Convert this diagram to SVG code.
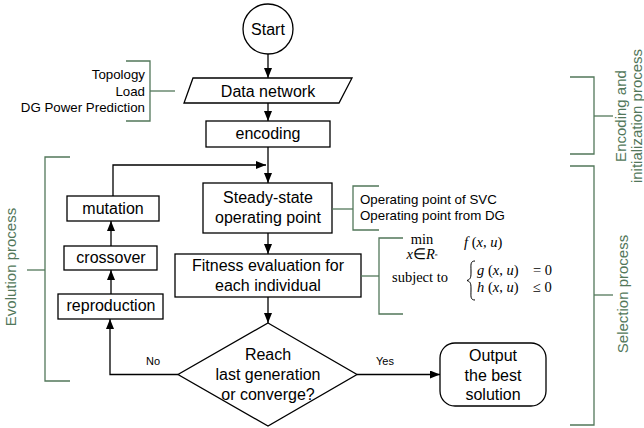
<svg xmlns="http://www.w3.org/2000/svg" width="644" height="428" viewBox="0 0 644 428">
<defs>
<marker id="ah" viewBox="0 0 10 8" refX="10" refY="4" markerWidth="10" markerHeight="8" markerUnits="userSpaceOnUse" orient="auto">
<path d="M0,0 L10,4 L0,8 Z" fill="#000"/>
</marker>
<style>
.box{fill:#fff;stroke:#000;stroke-width:1.3}
.t{font-family:"Liberation Sans",Arial,sans-serif;font-size:16px;fill:#000;text-anchor:middle}
.s{font-family:"Liberation Sans",Arial,sans-serif;font-size:11px;fill:#000;text-anchor:middle}
.n{font-family:"Liberation Sans",Arial,sans-serif;font-size:13.3px;fill:#000}
.g{font-family:"Liberation Sans",Arial,sans-serif;font-size:15px;fill:#52775a;text-anchor:middle}
.br{fill:none;stroke:#52775a;stroke-width:1.3}
.c{fill:none;stroke:#000;stroke-width:1.3}
.m{font-family:"Liberation Serif","Times New Roman",serif;font-size:14.5px;fill:#000}
.mi{font-style:italic}
</style>
</defs>

<g id="connectors">
<line class="c" x1="268" y1="54" x2="268" y2="78" marker-end="url(#ah)"/>
<line class="c" x1="268" y1="103" x2="268" y2="121" marker-end="url(#ah)"/>
<line class="c" x1="268" y1="147" x2="268" y2="183" marker-end="url(#ah)"/>
<polyline class="c" points="113,196 113,165 266,165" marker-end="url(#ah)"/>
<line class="c" x1="268" y1="233" x2="268" y2="254" marker-end="url(#ah)"/>
<line class="c" x1="268" y1="297" x2="268" y2="323" marker-end="url(#ah)"/>
<line class="c" x1="111" y1="246" x2="111" y2="221" marker-end="url(#ah)"/>
<line class="c" x1="111" y1="294" x2="111" y2="270" marker-end="url(#ah)"/>
<polyline class="c" points="178,374.5 110,374.5 110,319" marker-end="url(#ah)"/>
<line class="c" x1="357" y1="374.5" x2="440" y2="374.5" marker-end="url(#ah)"/>
<text class="s" x="153" y="365">No</text>
<text class="s" x="385" y="365">Yes</text>
</g>

<g id="start">
<circle cx="268" cy="29" r="25" class="box"/>
<text class="t" x="268" y="35">Start</text>
</g>

<g id="data-network">
<polygon class="box" points="193,78 352,78 339,103 184,103"/>
<text class="t" x="268" y="97">Data network</text>
</g>

<g id="encoding">
<rect class="box" x="206" y="121" width="124" height="26"/>
<text class="t" x="268" y="139">encoding</text>
</g>

<g id="steady-state">
<rect class="box" x="203" y="183" width="129" height="50"/>
<text class="t" x="268" y="203">Steady-state</text>
<text class="t" x="268" y="223">operating point</text>
</g>

<g id="fitness">
<rect class="box" x="175" y="254" width="186" height="43"/>
<text class="t" x="268" y="271">Fitness evaluation for</text>
<text class="t" x="268" y="291">each individual</text>
</g>

<g id="decision">
<polygon class="box" points="268,323 357,374.5 268,426 178,374.5"/>
<text class="t" x="268" y="360">Reach</text>
<text class="t" x="268" y="380">last generation</text>
<text class="t" x="268" y="400">or converge?</text>
</g>

<g id="output">
<rect class="box" x="440" y="343" width="106" height="63" rx="15" ry="15"/>
<text class="t" x="493" y="361">Output</text>
<text class="t" x="493" y="381">the best</text>
<text class="t" x="493" y="400">solution</text>
</g>

<g id="mutation">
<rect class="box" x="67" y="196" width="92" height="25"/>
<text class="t" x="113" y="214">mutation</text>
</g>

<g id="crossover">
<rect class="box" x="64" y="246" width="93" height="24"/>
<text class="t" x="111" y="263">crossover</text>
</g>

<g id="reproduction">
<rect class="box" x="58" y="294" width="105" height="25"/>
<text class="t" x="111" y="311">reproduction</text>
</g>

<g id="input-bracket">
<polyline class="br" points="126,61 150,61 150,121 126,121"/>
<line class="br" x1="150" y1="91" x2="175" y2="91"/>
<text class="n" x="145" y="79" text-anchor="end" font-size="14">Topology</text>
<text class="n" x="145" y="95.5" text-anchor="end" font-size="14">Load</text>
<text class="n" x="145" y="112" text-anchor="end" font-size="14">DG Power Prediction</text>
</g>

<g id="svc-bracket">
<line class="br" x1="332" y1="209" x2="353" y2="209"/>
<polyline class="br" points="379,186 353,186 353,230 379,230"/>
<text class="n" x="360" y="204">Operating point of SVC</text>
<text class="n" x="360" y="220">Operating point from DG</text>
</g>

<g id="math-bracket">
<line class="br" x1="361" y1="276" x2="379" y2="276"/>
<polyline class="br" points="403,238 379,238 379,314 403,314"/>
<text class="m" x="422" y="244" text-anchor="middle" font-size="14">min</text>
<text class="m mi" x="422" y="258.5" text-anchor="middle" font-size="7">x<tspan font-style="normal">∈</tspan>R<tspan dy="-3" font-size="5">n</tspan></text>
<text class="m" x="464" y="247"><tspan class="mi">f</tspan> (<tspan class="mi">x</tspan>, <tspan class="mi">u</tspan>)</text>
<text class="m" x="392" y="282">subject to</text>
<path d="M475,261 C470,261 471,265 471,271 C471,277 471,279 467,280.5 C471,282 471,284 471,290 C471,296 470,300 475,300" fill="none" stroke="#000" stroke-width="1"/>
<text class="m" x="477" y="275"><tspan class="mi">g</tspan> (<tspan class="mi">x</tspan>, <tspan class="mi">u</tspan>)</text>
<text class="m" x="533" y="275">= 0</text>
<text class="m" x="477" y="292"><tspan class="mi">h</tspan> (<tspan class="mi">x</tspan>, <tspan class="mi">u</tspan>)</text>
<text class="m" x="533" y="292">≤ 0</text>
</g>

<g id="evolution-bracket">
<polyline class="br" points="70,157 45,157 45,381 70,381"/>
<line class="br" x1="27" y1="270" x2="45" y2="270"/>
<text class="g" transform="translate(16,267) rotate(-90)">Evolution process</text>
</g>

<g id="encoding-bracket">
<polyline class="br" points="570,77 594,77 594,154 570,154"/>
<line class="br" x1="594" y1="116" x2="613" y2="116"/>
<text class="g" transform="translate(626,116) rotate(-90)">Encoding and</text>
<text class="g" transform="translate(642,116) rotate(-90)">initialization process</text>
</g>

<g id="selection-bracket">
<polyline class="br" points="570,166 594,166 594,425 570,425"/>
<line class="br" x1="594" y1="295" x2="613" y2="295"/>
<text class="g" transform="translate(628,294) rotate(-90)">Selection process</text>
</g>
</svg>
